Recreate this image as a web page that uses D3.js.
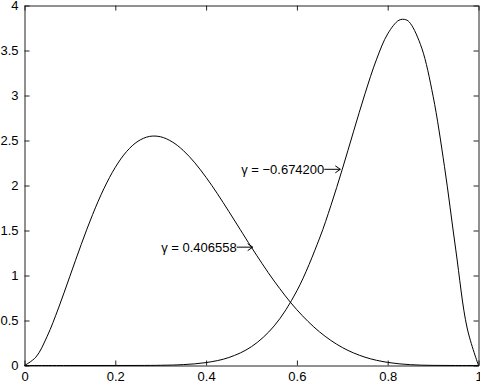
<!DOCTYPE html>
<html>
<head>
<meta charset="utf-8">
<script src="https://cdn.jsdelivr.net/npm/d3@7"></script>
<style>
  html, body { margin: 0; padding: 0; background: #fff; }
  svg { display: block; }
  text { font-family: "Liberation Sans", Arial, Helvetica, sans-serif; }
</style>
</head>
<body>
<svg id="chart" width="480" height="383"></svg>
<script>
// ---- data ----
const xTicks = [0, 0.2, 0.4, 0.6, 0.8, 1];
const xTickLabels = ["0", "0.2", "0.4", "0.6", "0.8", "1"];
const yTicks = [0, 0.5, 1, 1.5, 2, 2.5, 3, 3.5, 4];
const yTickLabels = ["0", "0.5", "1", "1.5", "2", "2.5", "3", "3.5", "4"];

const leftX = [0, 0.025, 0.05, 0.075, 0.1, 0.125, 0.15, 0.175, 0.2, 0.225, 0.25, 0.275, 0.3, 0.325, 0.35, 0.375, 0.4, 0.425, 0.45, 0.475, 0.5, 0.55, 0.6, 0.65, 0.7, 0.75, 0.8, 0.85, 0.9, 0.95, 1];
const leftY = [0, 0.0925, 0.325, 0.640, 0.992, 1.346, 1.677, 1.966, 2.202, 2.378, 2.492, 2.545, 2.541, 2.486, 2.388, 2.253, 2.090, 1.908, 1.712, 1.512, 1.3125, 0.938, 0.619, 0.373, 0.200, 0.0923, 0.0344, 0.0092, 0.0014, 0.00005, 0];

const rightX = [0, 0.1, 0.2, 0.3, 0.35, 0.4, 0.45, 0.5, 0.55, 0.6, 0.65, 0.675, 0.7, 0.725, 0.75, 0.775, 0.8, 0.825, 0.84, 0.85, 0.875, 0.9, 0.925, 0.95, 0.975, 1];
const rightY = [0, 0, 0.00006, 0.0025, 0.0100, 0.0324, 0.0884, 0.2095, 0.440, 0.830, 1.415, 1.779, 2.181, 2.604, 3.020, 3.396, 3.685, 3.837, 3.842, 3.801, 3.527, 2.992, 2.213, 1.284, 0.416, 0];

// annotations: label, data point the arrow touches
const annoLabels = ["γ = 0.406558", "γ = −0.674200"];
const annoX = [0.507, 0.700];
const annoY = [1.315, 2.18];

// ---- layout ----
const W = 480, H = 383;
const svg = d3.select("#chart");
const x = d3.scaleLinear().domain([0, 1]).range([24.5, 478.5]);
const y = d3.scaleLinear().domain([0, 4]).range([365.5, 5.5]);

const fontSize = 13;

// axes (MATLAB-style box, ticks inside)
const gB = svg.append("g").attr("transform", `translate(0,${y(0)})`)
  .call(d3.axisBottom(x).tickValues(xTicks).tickFormat((d, i) => xTickLabels[i])
    .tickSizeInner(-5).tickSizeOuter(0).tickPadding(6));
const gT = svg.append("g").attr("transform", `translate(0,${y(4)})`)
  .call(d3.axisTop(x).tickValues(xTicks).tickFormat("")
    .tickSizeInner(-5).tickSizeOuter(0));
const gL = svg.append("g").attr("transform", `translate(${x(0)},0)`)
  .call(d3.axisLeft(y).tickValues(yTicks).tickFormat((d, i) => yTickLabels[i])
    .tickSizeInner(-5).tickSizeOuter(0).tickPadding(6));
const gR = svg.append("g").attr("transform", `translate(${x(1)},0)`)
  .call(d3.axisRight(y).tickValues(yTicks).tickFormat("")
    .tickSizeInner(-5).tickSizeOuter(0));

[gB, gT, gL, gR].forEach(g => {
  g.select(".domain").attr("stroke", "#222").attr("stroke-width", 1);
  g.selectAll(".tick line").attr("stroke", "#222");
  g.selectAll("text").attr("font-size", fontSize).attr("fill", "#000")
    .attr("font-family", "'Liberation Sans', Arial, sans-serif");
});

// curves
const line = d3.line().x(d => x(d[0])).y(d => y(d[1])).curve(d3.curveCatmullRom.alpha(0.5));
svg.append("path").datum(leftX.map((v, i) => [v, leftY[i]]))
  .attr("d", line).attr("fill", "none").attr("stroke", "#000").attr("stroke-width", 1);
svg.append("path").datum(rightX.map((v, i) => [v, rightY[i]]))
  .attr("d", line).attr("fill", "none").attr("stroke", "#000").attr("stroke-width", 1);

// annotations with arrows
const arrowLen = 16;
annoLabels.forEach((lab, i) => {
  const tx = x(annoX[i]) - 2, ty = y(annoY[i]);
  const g = svg.append("g");
  g.append("line")
    .attr("x1", tx - arrowLen).attr("y1", ty).attr("x2", tx).attr("y2", ty)
    .attr("stroke", "#000").attr("stroke-width", 1);
  g.append("path")
    .attr("d", `M${tx - 5},${ty - 3.5}L${tx},${ty}L${tx - 5},${ty + 3.5}`)
    .attr("fill", "none").attr("stroke", "#000").attr("stroke-width", 1);
  g.append("text")
    .attr("x", tx - arrowLen).attr("y", ty).attr("dy", "0.35em")
    .attr("text-anchor", "end").attr("font-size", fontSize).attr("fill", "#000")
    .text(lab);
});
</script>
</body>
</html>
